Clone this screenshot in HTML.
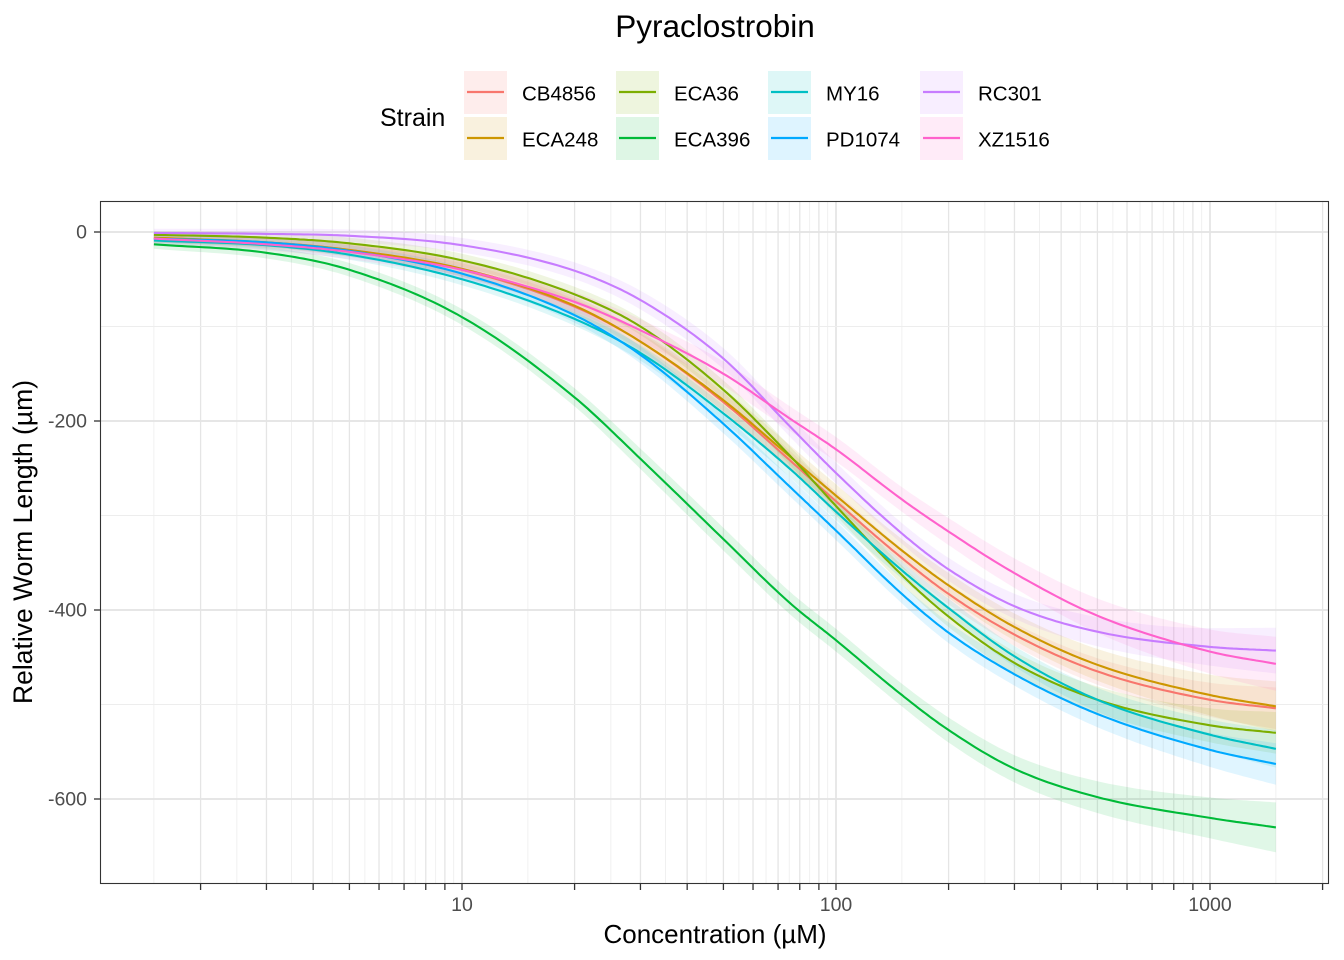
<!DOCTYPE html>
<html><head><meta charset="utf-8"><style>
body{margin:0;background:#fff;}
svg{display:block;font-family:"Liberation Sans",Arial,sans-serif;}
</style></head><body>
<svg id="chart" width="1344" height="960" xmlns="http://www.w3.org/2000/svg">
<text x="715" y="37" font-size="31.5" text-anchor="middle" fill="#000">Pyraclostrobin</text>
<text x="380" y="126" font-size="25" fill="#000">Strain</text>
<g id="legend"></g>
<g id="grid"></g>
<g id="ribbons"></g>
<g id="lines"></g>
<rect x="100.5" y="201.5" width="1228" height="682" fill="none" stroke="#333" stroke-width="1.1"/>
<g id="axes"></g>
<text x="715" y="943" font-size="26" text-anchor="middle" fill="#000">Concentration (µM)</text>
<text transform="translate(32,542) rotate(-90)" font-size="26.5" text-anchor="middle" fill="#000">Relative Worm Length (µm)</text>
</svg>
<script>
const conc = [1.5, 3, 5, 10, 20, 30, 50, 75, 100, 150, 200, 300, 500, 1000, 1500];
const strains = ["CB4856","ECA248","ECA36","ECA396","MY16","PD1074","RC301","XZ1516"];
const colors = ["#F8766D","#CD9600","#7CAE00","#00BA38","#00BFC4","#00A9FF","#C77CFF","#FF61CC"];
const valCB4856 = [-7,-11,-19,-40,-79,-116,-180,-241,-285,-345,-383,-426,-465,-495,-504];
const valECA248 = [-6,-11,-19,-39,-78,-116,-178,-237,-279,-337,-374,-418,-458,-490,-502];
const valECA36  = [-3,-6,-12,-30,-66,-100,-167,-236,-290,-363,-407,-456,-495,-522,-530];
const valECA396 = [-13,-22,-40,-90,-175,-240,-325,-392,-432,-490,-527,-568,-598,-620,-630];
const valMY16   = [-9,-14,-24,-50,-92,-128,-192,-250,-296,-358,-398,-449,-495,-532,-547];
const valPD1074 = [-7,-11,-20,-44,-88,-130,-203,-269,-316,-383,-424,-468,-510,-548,-563];
const valRC301  = [-1,-2,-4,-14,-41,-72,-134,-205,-255,-319,-357,-396,-423,-439,-443];
const valXZ1516 = [-7,-13,-21,-40,-74,-104,-150,-197,-230,-283,-317,-361,-406,-444,-457];
const ciHalf = [4,5,6,7,8,9,10,10,10,10,11,12,14,18,22];
const ciScale = [1.0,1.2,1.0,1.2,0.9,1.0,1.1,1.3];
const yTicks = [0,-200,-400,-600];
const yMinor = [-100,-300,-500];
const xTicks = [10,100,1000];

const series = [valCB4856,valECA248,valECA36,valECA396,valMY16,valPD1074,valRC301,valXZ1516];
const NS="http://www.w3.org/2000/svg";
function X(c){return 462+374*(Math.log10(c)-1);}
function Y(v){return 232-0.945*v;}
function mk(tag,attrs,parent){const e=document.createElementNS(NS,tag);for(const k in attrs)e.setAttribute(k,attrs[k]);parent.appendChild(e);return e;}

function interp(xs,ys,n){
  const m=xs.length,d=[],t=[];
  for(let i=0;i<m-1;i++)d.push((ys[i+1]-ys[i])/(xs[i+1]-xs[i]));
  t[0]=d[0];t[m-1]=d[m-2];
  for(let i=1;i<m-1;i++){t[i]=(d[i-1]*d[i]<=0)?0:(d[i-1]+d[i])/2;}
  for(let i=0;i<m-1;i++){if(d[i]===0){t[i]=t[i+1]=0;continue;}const a=t[i]/d[i],b=t[i+1]/d[i],s=a*a+b*b;if(s>9){const k=3/Math.sqrt(s);t[i]=k*a*d[i];t[i+1]=k*b*d[i];}}
  const out=[];
  for(let i=0;i<m-1;i++){const h=xs[i+1]-xs[i];for(let j=0;j<n;j++){const u=j/n,u2=u*u,u3=u2*u;
    out.push([xs[i]+u*h,(2*u3-3*u2+1)*ys[i]+(u3-2*u2+u)*h*t[i]+(-2*u3+3*u2)*ys[i+1]+(u3-u2)*h*t[i+1]]);}}
  out.push([xs[m-1],ys[m-1]]);return out;
}

const grid=document.getElementById('grid');
const lx=conc.map(c=>Math.log10(c));
for(let k=0;k<=3;k++)for(let n=1;n<=9;n++){
  const c=n*Math.pow(10,k);const px=X(c);
  if(px>101&&px<1328){
    const l=mk('line',{x1:px,x2:px,y1:202,y2:883,stroke:'#e5e5e5','stroke-width':n===1?1.8:1.3},grid);
    
    
  }
  const p2=X((n+0.5)*Math.pow(10,k));
  if(p2>101&&p2<1328){
    const l2=mk('line',{x1:p2,x2:p2,y1:202,y2:883,stroke:'#efefef','stroke-width':0.9},grid);
    
    
  }
}
yMinor.forEach(v=>{const l=mk('line',{x1:101,x2:1328,y1:Y(v),y2:Y(v),stroke:'#ededed','stroke-width':1},grid);
  
  });
yTicks.forEach(v=>{const l=mk('line',{x1:101,x2:1328,y1:Y(v),y2:Y(v),stroke:'#e3e3e3','stroke-width':1.8},grid);
  
  });

const rib=document.getElementById('ribbons'),lines=document.getElementById('lines');
series.forEach((vals,si)=>{
  const up=vals.map((v,i)=>v+ciHalf[i]*ciScale[si]),lo=vals.map((v,i)=>v-ciHalf[i]*ciScale[si]);
  const pu=interp(lx,up,20),pl=interp(lx,lo,20).reverse();
  const d='M'+pu.concat(pl).map(p=>X(Math.pow(10,p[0])).toFixed(1)+','+Y(p[1]).toFixed(1)).join('L')+'Z';
  const r=mk('path',{d:d,fill:colors[si],'fill-opacity':0.12},rib);
  
  
  const pm=interp(lx,vals,20);
  const dl='M'+pm.map(p=>X(Math.pow(10,p[0])).toFixed(1)+','+Y(p[1]).toFixed(1)).join('L');
  const ln=mk('path',{d:dl,fill:'none',stroke:colors[si],'stroke-width':2.1},lines);
  
  
});

const axes=document.getElementById('axes');
yTicks.forEach(v=>{
  const t=mk('line',{x1:94,x2:100,y1:Y(v),y2:Y(v),stroke:'#333','stroke-width':1.3},axes);
  
  
  const tx=mk('text',{x:87,y:Y(v)+6.5,'font-size':19.5,'text-anchor':'end',fill:'#4d4d4d'},axes);
  tx.textContent=String(v);
  
  
});
for(let k=0;k<=3;k++)for(let n=1;n<=9;n++){
  const c=n*Math.pow(10,k);const px=X(c);if(px<101||px>1328)continue;
  const t=mk('line',{x1:px,x2:px,y1:884,y2:890,stroke:'#333','stroke-width':1.3},axes);
  
  
}
xTicks.forEach(c=>{
  const tx=mk('text',{x:X(c),y:911,'font-size':19.5,'text-anchor':'middle',fill:'#4d4d4d'},axes);
  tx.textContent=String(c);
  
  
});

const lg=document.getElementById('legend');
strains.forEach((s,i)=>{
  const col=Math.floor(i/2),row=i%2;
  const bx=464+col*152,by=71+row*46;
  const g=mk('g',{},lg);
  
  
  mk('rect',{x:bx,y:by,width:43,height:43,fill:colors[i],'fill-opacity':0.13},g);
  mk('line',{x1:bx+3,x2:bx+40,y1:by+21,y2:by+21,stroke:colors[i],'stroke-width':2.2},g);
  const t=mk('text',{x:bx+58,y:by+29.5,'font-size':20.5,fill:'#000'},g);
  t.textContent=s;
});
</script>
</body></html>
